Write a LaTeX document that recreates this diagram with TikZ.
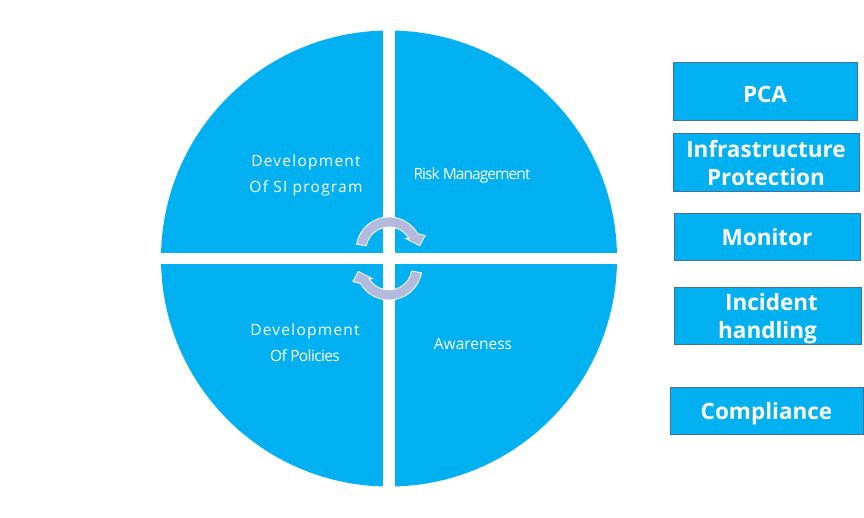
\documentclass[tikz,border=0pt]{standalone}
\usepackage{fontspec}
\setmainfont{Open Sans}
\definecolor{cyanfill}{RGB}{0,176,240}
\definecolor{boxedge}{RGB}{65,113,156}
\definecolor{cyclearrow}{RGB}{180,186,222}
% lower a label inside its box without changing the box's reported size
\newcommand{\lowered}[2]{\raisebox{-#1}[\height][\depth]{#2}}
\newcommand{\twolines}[3]{\lowered{#1}{\begin{tabular}{@{}c@{}}#2\\#3\end{tabular}}}
\tikzset{
  quadtext/.style={text=white, align=center, font=\fontsize{15.5}{26}\selectfont\addfontfeature{LetterSpace=8}},
  tighttext/.style={text=white, align=center, font=\fontsize{15.5}{26}\selectfont\addfontfeature{LetterSpace=-6}},
  sidebox/.style={draw=boxedge, line width=1pt, fill=cyanfill, text=white, align=center,
    inner sep=0pt, font=\bfseries\fontsize{22.5}{28.5}\selectfont},
  cyclearrowshape/.style={fill=cyclearrow, draw=white, line width=0.8pt}
}
\begin{document}
\begin{tikzpicture}[x=1pt,y=-1pt]
  \useasboundingbox (0,0) rectangle (864,517);

  % four quadrants: one disc split by a white cross
  \fill[cyanfill] (389,258.5) circle[radius=228];
  \fill[white] (383,20) rectangle (395,500);
  \fill[white] (150,253) rectangle (630,264);

  % quadrant labels
  \node[quadtext] (devsi) at (306,175) {Development\\Of SI program};
  \node[tighttext] (risk) at (472,175) {Risk Management};
  \node[quadtext] (devpol) at (305,343) {Development\\\addfontfeature{LetterSpace=-4}Of Policies};
  \node[quadtext, font=\fontsize{15.5}{26}\selectfont] (aware) at (473,344) {Awareness};

  % cycle arrows at the centre
  \begin{scope}[shift={(389,250)}]
    \filldraw[cyclearrowshape] (190:33) arc[start angle=190, end angle=330, radius=33]
      -- (338:39) -- (352:31) -- (324:20) -- (330:23)
      arc[start angle=330, end angle=190, radius=23] -- cycle;
  \end{scope}
  \begin{scope}[shift={(389,267)}, rotate=180]
    \filldraw[cyclearrowshape] (190:33) arc[start angle=190, end angle=330, radius=33]
      -- (338:39) -- (352:31) -- (324:20) -- (330:23)
      arc[start angle=330, end angle=190, radius=23] -- cycle;
  \end{scope}

  % side boxes
  \node[sidebox, minimum width=184pt, minimum height=58pt] (pca) at (765,91) {\lowered{3pt}{PCA}};
  \node[sidebox, minimum width=186pt, minimum height=58pt] (infra) at (766,162) {\twolines{4pt}{Infrastructure}{Protection}};
  \node[sidebox, minimum width=186pt, minimum height=47pt] (monitor) at (767,236.5) {\lowered{1pt}{Monitor}};
  \node[sidebox, minimum width=187pt, minimum height=57pt] (incident) at (767.5,315.5) {\twolines{3.5pt}{\hspace*{8pt}Incident}{handling}};
  \node[sidebox, minimum width=193pt, minimum height=47pt] (compliance) at (766.5,410.5) {\lowered{3pt}{Compliance}};
\end{tikzpicture}
\end{document}
